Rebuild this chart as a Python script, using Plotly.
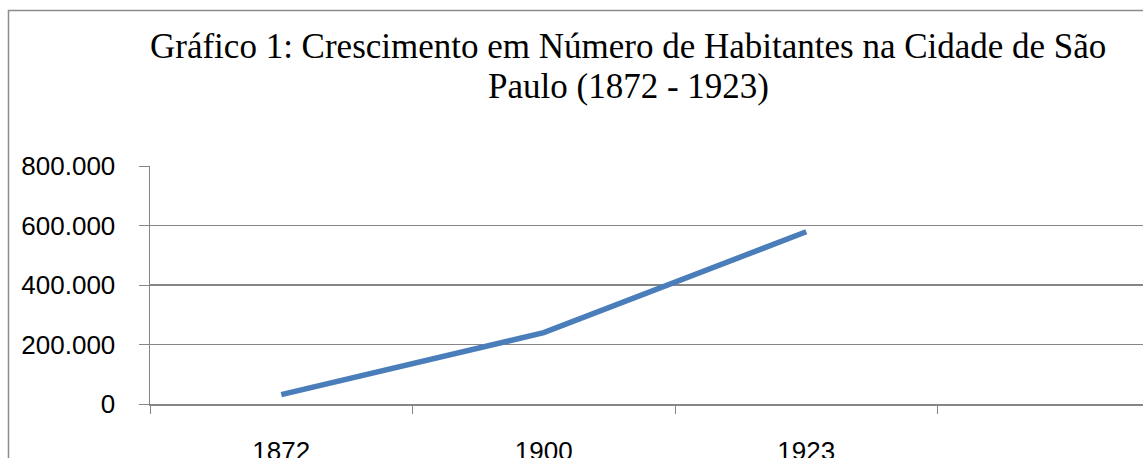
import plotly.graph_objects as go

# Data
anos = ["1872", "1900", "1923", " "]
habitantes = [31385, 239820, 579033, None]
titulo_linha1 = "Gráfico 1: Crescimento em Número de Habitantes na Cidade de São"
titulo_linha2 = "Paulo (1872 - 1923)"

W, H = 1143, 458
L, R, T, B = 150, 0, 166, 54
pw, ph = W - L - R, H - T - B
cat_w = 262.5

def px_x(x):
    return (x - L) / pw

def px_y(y):
    return 1 - (y - T) / ph

fig = go.Figure()
fig.add_trace(go.Scatter(
    x=anos, y=habitantes, mode="lines",
    line=dict(color="#4a7ebb", width=5.5),
    connectgaps=False, hoverinfo="skip", showlegend=False,
))

grid = "#868686"
fig.update_layout(
    width=W, height=H,
    margin=dict(l=L, r=R, t=T, b=B, pad=0, autoexpand=False),
    paper_bgcolor="white", plot_bgcolor="white",
    separators=",.",
    showlegend=False,
    xaxis=dict(
        type="category", categoryorder="array", categoryarray=anos,
        range=[-0.5, -0.5 + pw / cat_w],
        tickson="boundaries", ticks="outside", ticklen=8, tickcolor=grid, tickwidth=1,
        showgrid=False, showline=True, linecolor=grid, linewidth=1.5,
        tickfont=dict(family="Liberation Sans", size=26, color="black"),
        ticklabelstandoff=23, automargin=False,
        zeroline=False,
    ),
    yaxis=dict(
        range=[0, 800000], tickmode="array",
        tickvals=[0, 200000, 400000, 600000, 800000],
        tickformat=",d",
        ticks="outside", ticklen=10, tickcolor=grid, tickwidth=1,
        showgrid=True, gridcolor=grid, gridwidth=1.2,
        showline=True, linecolor=grid, linewidth=1.5,
        zeroline=False, automargin=False,
        tickfont=dict(family="Liberation Sans", size=26, color="black"),
        ticklabelstandoff=18,
    ),
    shapes=[dict(
        type="rect", xref="paper", yref="paper",
        x0=px_x(8.5), x1=px_x(1300), y0=px_y(600), y1=px_y(10.5),
        line=dict(color="#8c8c8c", width=1.5), fillcolor="rgba(0,0,0,0)", layer="below",
    )],
    annotations=[
        dict(text=titulo_linha1, xref="paper", yref="paper", x=px_x(628), y=px_y(25),
             xanchor="center", yanchor="top", showarrow=False,
             font=dict(family="Liberation Serif", size=35, color="black")),
        dict(text=titulo_linha2, xref="paper", yref="paper", x=px_x(628), y=px_y(65),
             xanchor="center", yanchor="top", showarrow=False,
             font=dict(family="Liberation Serif", size=35, color="black")),
    ],
)

fig.write_html(
    "out.html",
    config={"displayModeBar": False, "staticPlot": True},
    post_script="document.body.style.margin='0';document.body.style.overflow='hidden';",
)
